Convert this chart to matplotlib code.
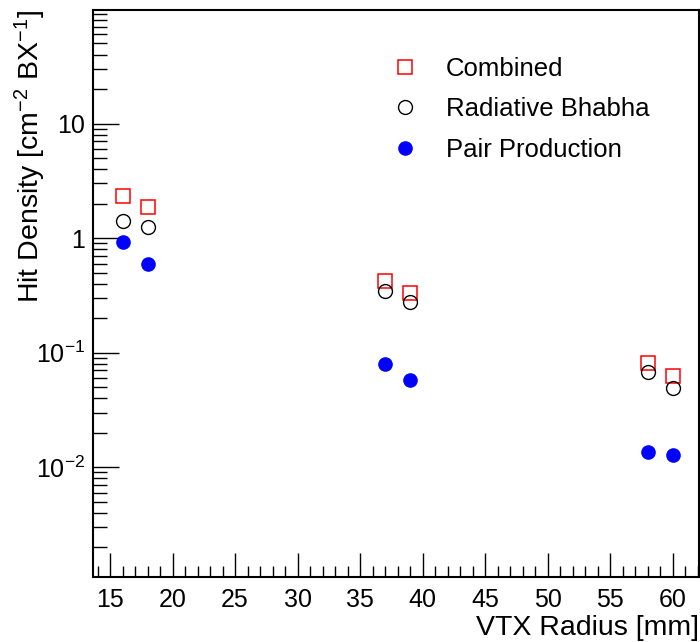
import math
import matplotlib
matplotlib.use("Agg")
import matplotlib.pyplot as plt
from matplotlib.ticker import FixedLocator, LogLocator, MultipleLocator, FuncFormatter

plt.rcParams['font.family'] = ['Liberation Sans', 'DejaVu Sans']
plt.rcParams['mathtext.fontset'] = 'custom'
plt.rcParams['mathtext.rm'] = 'Liberation Sans'
plt.rcParams['mathtext.it'] = 'Liberation Sans:italic'

# VTX layer radii [mm]
radius = [16, 18, 37, 39, 58, 60]
combined = [2.33, 1.85, 0.42, 0.33, 0.082, 0.062]
radiative_bhabha = [1.41, 1.26, 0.346, 0.277, 0.068, 0.049]
pair_production = [0.93, 0.60, 0.080, 0.058, 0.0135, 0.0128]

fig = plt.figure(figsize=(7.0, 6.42), dpi=100)
ax = fig.add_axes([93 / 700, 65 / 642, 606 / 700, 567 / 642])

ax.plot(radius, combined, ls='none', marker='s', ms=10.5, mfc='none', mec='red',
        mew=1.1, label='Combined')
ax.plot(radius, radiative_bhabha, ls='none', marker='o', ms=10, mfc='none', mec='black',
        mew=1.0, label='Radiative Bhabha')
ax.plot(radius, pair_production, ls='none', marker='o', ms=9.5, mfc='blue', mec='blue',
        label='Pair Production')

ax.set_yscale('log')
ax.set_xlim(13.64, 62.1)
ax.set_ylim(1.1e-3, 98)

ax.xaxis.set_major_locator(MultipleLocator(5))
ax.xaxis.set_minor_locator(MultipleLocator(1))
ax.yaxis.set_major_locator(FixedLocator([1e-2, 1e-1, 1, 10]))
ax.yaxis.set_minor_locator(LogLocator(base=10, subs=range(2, 10)))


def yfmt(v, pos):
    if abs(v - 1) < 1e-9:
        return '1'
    if abs(v - 10) < 1e-9:
        return '10'
    e = int(round(math.log10(v)))
    return r'$10^{%d}$' % e


ax.yaxis.set_major_formatter(FuncFormatter(yfmt))
ax.yaxis.set_minor_formatter(FuncFormatter(lambda v, p: ''))

ax.tick_params(which='both', direction='in', top=False, right=False, labelsize=18)
ax.tick_params(axis='x', which='major', length=17, width=1, pad=8)
ax.tick_params(axis='x', which='minor', length=8, width=1)
ax.tick_params(axis='y', which='major', length=19, width=1, pad=6)
ax.tick_params(axis='y', which='minor', length=10, width=1)
for s in ax.spines.values():
    s.set_linewidth(1.5)

ax.set_xlabel('VTX Radius [mm]', fontsize=20.5, loc='right', labelpad=2)
ax.set_ylabel(r'Hit Density [cm$^{-2}$ BX$^{-1}$]', fontsize=20.5, loc='top')
ax.yaxis.set_label_coords(-0.074, 1.0)

ax.legend(loc='upper left', bbox_to_anchor=(0.455, 0.935), frameon=False, fontsize=18.5,
          handletextpad=0.6, labelspacing=0.63, borderaxespad=0)

fig.savefig('out.png', dpi=100)
